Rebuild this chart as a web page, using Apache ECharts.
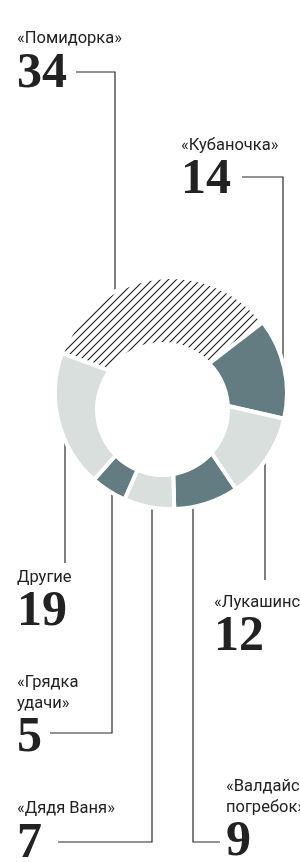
<!DOCTYPE html>
<html>
<head>
<meta charset="utf-8">
<script src="https://cdn.jsdelivr.net/npm/echarts@6/dist/echarts.min.js"></script>
<style>
html,body{margin:0;padding:0;background:#fff;}
#chart{width:300px;height:862px;}
</style>
</head>
<body>
<div id="chart"></div>
<script>
// ---- data ----
const categories = ['«Помидорка»', '«Кубаночка»', '«Лукашинские»', '«Валдайский\nпогребок»', '«Дядя Ваня»', '«Грядка\nудачи»', 'Другие'];
const values = [34, 14, 12, 9, 7, 5, 19];
const fillKinds = ['hatch', 'dark', 'light', 'dark', 'light', 'dark', 'light'];

// ---- layout / style ----
const CX = 171, CY = 393, R = 116, RVIS = 114;
const HOLE = {x: 162.5, y: 409.5, r: 67.5};
const DARK = '#627c82', LIGHT = '#d8dfdc', INK = '#222222';
const SANS = "Roboto,'Open Sans',sans-serif";
const SERIF = "'Liberation Serif','DejaVu Serif',serif";
// label top-left, leader line x, elbow y, end x, side (-1 above pie, +1 below)
const labelPos = [
  {x: 17, y: 28.5, lx: 115, ey: 72,  ex: 76,  side: -1},
  {x: 181, y: 135, lx: 283, ey: 177, ex: 242, side: -1},
  {x: 214, y: 592, lx: 265, ey: 580, ex: 265, side: 1},
  {x: 226, y: 776, lx: 193, ey: 842, ex: 220, side: 1},
  {x: 17, y: 798.5, lx: 152, ey: 842, ex: 58,  side: 1},
  {x: 17, y: 672, lx: 112, ey: 733, ex: 50,  side: 1},
  {x: 17, y: 567, lx: 65,  ey: 563, ex: 65,  side: 1}
];

function hatchPattern() {
  const c = document.createElement('canvas');
  const s = 8;
  c.width = s; c.height = s;
  const g = c.getContext('2d');
  g.fillStyle = '#ffffff';
  g.fillRect(0, 0, s, s);
  g.strokeStyle = '#1c1c1c';
  g.lineWidth = 1.1;
  g.beginPath();
  g.moveTo(-2, s + 2); g.lineTo(s + 2, -2);
  g.moveTo(-2, 2); g.lineTo(2, -2);
  g.moveTo(s - 2, s + 2); g.lineTo(s + 2, s - 2);
  g.stroke();
  return {image: c, repeat: 'repeat'};
}
const fills = {hatch: hatchPattern(), dark: DARK, light: LIGHT};

const data = categories.map((n, i) => ({
  name: n,
  value: values[i],
  itemStyle: {color: fills[fillKinds[i]]}
}));

const chart = echarts.init(document.getElementById('chart'), null, {renderer: 'canvas'});
chart.setOption({
  animation: false,
  backgroundColor: '#ffffff',
  series: [{
    type: 'pie',
    center: [CX, CY],
    radius: [0, R],
    startAngle: 160,
    clockwise: true,
    avoidLabelOverlap: false,
    silent: true,
    itemStyle: {borderColor: '#ffffff', borderWidth: 4},
    label: {
      show: true,
      position: 'outside',
      formatter: p => '{n|' + p.name.split('\n').join('}\n{n|') + '}\n{v|' + p.value + '}',
      rich: {
        n: {fontFamily: SANS, fontSize: 16.5, lineHeight: 21, color: INK},
        v: {fontFamily: SERIF, fontWeight: 'bold', fontSize: 50, lineHeight: 49, color: INK}
      }
    },
    labelLine: {show: true, lineStyle: {color: '#2a2a2a', width: 1.2}},
    labelLayout: function (params) {
      const L = labelPos[params.dataIndex];
      const dx = L.lx - CX;
      const edgeY = CY + L.side * Math.sqrt(Math.max(0, RVIS * RVIS - dx * dx));
      return {
        x: L.x, y: L.y, align: 'left', verticalAlign: 'top',
        labelLinePoints: [[L.lx, edgeY], [L.lx, L.ey], [L.ex, L.ey]]
      };
    },
    data: data
  }],
  graphic: [{
    type: 'circle', z: 100, silent: true,
    shape: {cx: HOLE.x, cy: HOLE.y, r: HOLE.r},
    style: {fill: '#ffffff'}
  }]
});
</script>
</body>
</html>
